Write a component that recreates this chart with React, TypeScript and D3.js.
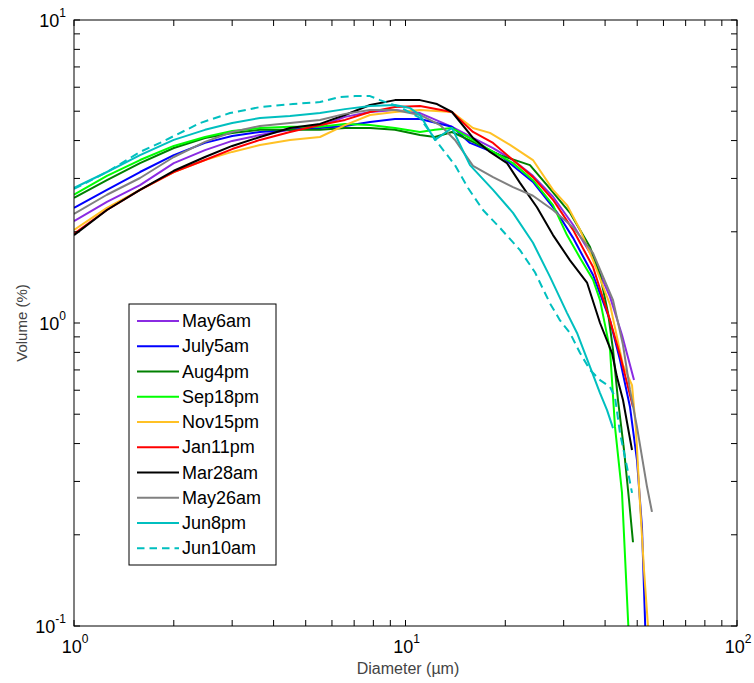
import React from 'react';
import * as d3 from 'd3';

type Pt = [number, number];

// [diameter (µm), volume (%)]
const may6am: Pt[] = [[1,2.17],[1.257,2.51],[1.582,2.85],[2,3.37],[2.484,3.72],[3,3.99],[3.64,4.17],[4.483,4.34],[5.522,4.47],[6.57,4.79],[7.815,4.97],[9.296,5.05],[11.06,4.93],[13.81,4.44],[15.98,4.08],[18.37,3.78],[21.1,3.45],[24.24,3.06],[27.86,2.61],[32.02,2.11],[36.79,1.64],[41.4,1.22],[44.99,0.913],[48.9,0.648]];
const july5am: Pt[] = [[1,2.4],[1.257,2.75],[1.582,3.15],[2,3.58],[2.484,3.93],[3,4.14],[3.64,4.27],[4.483,4.34],[5.522,4.4],[6.57,4.47],[7.815,4.61],[9.296,4.71],[11.06,4.71],[13.81,4.44],[15.65,3.93],[17.13,3.78],[19.28,3.58],[24.24,2.92],[28.64,2.32],[32.02,1.91],[36.79,1.44],[41.4,1.02],[44.37,0.755],[47.56,0.528],[49.92,0.353],[51.68,0.212],[52.78,0.105],[53.15,0.0833]];
const aug4pm: Pt[] = [[1,2.59],[1.257,2.96],[1.582,3.37],[2,3.78],[2.484,4.08],[3,4.24],[3.64,4.34],[4.483,4.34],[5.522,4.34],[6.57,4.4],[7.815,4.4],[9.296,4.34],[11.06,4.17],[12.27,4.11],[13.81,4.27],[15.98,3.96],[19.28,3.58],[23.74,3.32],[26.72,2.85],[31.35,2.31],[36.03,1.78],[38.62,1.44],[40.83,1.08],[42.27,0.815],[43.75,0.557],[45.62,0.381],[47.23,0.261],[48.56,0.189]];
const sep18pm: Pt[] = [[1,2.65],[1.257,3.06],[1.582,3.45],[2,3.84],[2.484,4.11],[3,4.3],[3.64,4.4],[4.483,4.44],[5.522,4.44],[6.57,4.54],[7.815,4.5],[9.296,4.4],[11.06,4.27],[12.27,4.34],[13.81,4.4],[15.98,4.02],[18.37,3.67],[21.1,3.37],[24.24,2.96],[27.86,2.45],[30.7,1.95],[33.62,1.64],[36.79,1.39],[38.62,1.19],[41.4,0.815],[42.85,0.454],[44.99,0.275],[46.91,0.105],[47.56,0.0772]];
const nov15pm: Pt[] = [[1,2.03],[1.257,2.4],[1.582,2.75],[2,3.15],[2.484,3.45],[3,3.67],[3.64,3.87],[4.483,4.02],[5.522,4.11],[6.57,4.5],[7.815,4.86],[9.296,4.97],[11.06,5.05],[13.81,4.97],[15.98,4.4],[17.98,4.24],[20.67,3.87],[24.24,3.45],[27.86,2.75],[30.7,2.45],[33.62,2.03],[36.79,1.61],[41.4,1.15],[45.3,0.727],[48.23,0.624],[49.58,0.443],[50.9,0.261],[52.42,0.153],[53.89,0.1],[54.26,0.0833]];
const jan11pm: Pt[] = [[1,1.97],[1.257,2.36],[1.582,2.75],[2,3.15],[2.484,3.45],[3,3.75],[3.64,4.02],[4.483,4.27],[5.522,4.5],[6.57,4.68],[7.815,4.97],[9.296,5.16],[11.06,5.2],[13.81,4.97],[15.98,4.27],[18.37,3.93],[21.1,3.45],[24.24,3.03],[27.86,2.55],[32.02,2.03],[36.79,1.53],[41.4,1.02],[44.37,0.784],[48.56,0.528]];
const mar28am: Pt[] = [[1,1.95],[1.257,2.36],[1.582,2.75],[2,3.18],[2.484,3.53],[3,3.84],[3.64,4.11],[4.483,4.4],[5.522,4.54],[6.57,4.86],[7.815,5.24],[9.296,5.44],[11.06,5.44],[12.45,5.28],[13.81,4.97],[15.98,4.08],[17.98,3.67],[20.24,3.37],[22.15,2.9],[24.92,2.41],[27.86,1.95],[31.35,1.61],[35.28,1.36],[38.62,1.0],[41.98,0.796],[43.45,0.663],[45.3,0.557],[48.23,0.381]];
const may26am: Pt[] = [[1,2.29],[1.257,2.65],[1.582,3.01],[2,3.53],[2.484,3.96],[3,4.27],[3.64,4.47],[4.483,4.57],[5.522,4.68],[6.57,4.9],[7.815,5.05],[9.296,5.05],[11.06,4.86],[12.71,4.5],[14.1,4.02],[15.98,3.3],[18.37,3.03],[21.1,2.81],[24.24,2.63],[27.86,2.36],[32.02,2.07],[36.79,1.7],[42.27,1.19],[45.3,0.846],[47.56,0.601],[49.92,0.454],[53.52,0.288],[55.4,0.238]];
const jun8pm: Pt[] = [[1,2.79],[1.257,3.15],[1.582,3.58],[2,4.02],[2.484,4.34],[3,4.57],[3.64,4.75],[4.483,4.82],[5.522,4.93],[6.57,5.08],[7.815,5.2],[9.296,5.24],[10.32,5.12],[11.06,4.86],[12.27,4.02],[13.81,4.4],[15.65,3.32],[18.37,2.75],[21.1,2.31],[24.24,1.84],[27.29,1.42],[30.7,1.08],[32.92,0.927],[36.03,0.716],[38.62,0.587],[40.55,0.516],[42.27,0.45]];
const jun10am: Pt[] = [[1,2.77],[1.257,3.15],[1.582,3.67],[1.817,3.93],[2.4,4.57],[2.955,4.93],[3.64,5.16],[4.577,5.28],[5.522,5.36],[6.345,5.57],[7.04,5.61],[7.815,5.61],[8.378,5.44],[9.625,5.16],[11.06,4.75],[12.71,3.84],[14.1,3.32],[15.44,2.79],[17.13,2.36],[19.28,2.06],[22.15,1.74],[24.58,1.47],[27.29,1.16],[29.25,1.02],[31.35,0.927],[33.62,0.796],[36.03,0.7],[38.62,0.648],[41.4,0.615],[42.85,0.57],[44.37,0.433],[46.58,0.335],[48.23,0.275]];

const seriesNames = ['May6am','July5am','Aug4pm','Sep18pm','Nov15pm','Jan11pm','Mar28am','May26am','Jun8pm','Jun10am'];
const seriesData = [may6am, july5am, aug4pm, sep18pm, nov15pm, jan11pm, mar28am, may26am, jun8pm, jun10am];
const seriesColors = ['#8a2be2','#0000ff','#008000','#00ff00','#ffc125','#ff0000','#000000','#808080','#00bfbf','#00bfbf'];
const seriesDash = ['', '', '', '', '', '', '', '', '', '8,5'];

const xDecades = [1, 10, 100];
const xExp = ['0', '1', '2'];
const yDecades = [0.1, 1, 10];
const yExp = ['-1', '0', '1'];

const xTitle = 'Diameter (µm)';
const yTitle = 'Volume (%)';

const FONT = '"Liberation Sans", Arial, Helvetica, sans-serif';

export default function App() {
  const W = 754, H = 683;
  const L = 74, R = 737, T = 20, B = 626;
  const x = d3.scaleLog().domain([1, 100]).range([L, R]);
  const y = d3.scaleLog().domain([0.1, 10]).range([B, T]);
  const line = d3.line<Pt>().x(d => x(d[0])).y(d => y(d[1]));
  const xt = x.ticks();
  const yt = y.ticks();
  const tl = 6;

  const legX = 129, legY = 304, legW = 147, legH = 261;
  const rowY0 = 321, rowStep = 25.26;

  return (
    <div style={{ position: 'absolute', left: 0, top: 0 }}>
      <svg width={W} height={H} style={{ display: 'block', background: '#fff' }} fontFamily={FONT}>
        <defs>
          <clipPath id="plotclip">
            <rect x={L} y={T} width={R - L} height={B - T} />
          </clipPath>
        </defs>
        <rect x={0} y={0} width={W} height={H} fill="#fff" />
        <g clipPath="url(#plotclip)">
          {seriesData.map((d, i) => (
            <path key={i} d={line(d) || ''} fill="none" stroke={seriesColors[i]} strokeWidth={2}
              strokeDasharray={seriesDash[i] || undefined} strokeLinejoin="round" />
          ))}
        </g>
        {/* ticks */}
        <g stroke="#000" strokeWidth={1}>
          {xt.map((t, i) => (
            <g key={'x' + i}>
              <line x1={x(t)} x2={x(t)} y1={B} y2={B - tl} />
              <line x1={x(t)} x2={x(t)} y1={T} y2={T + tl} />
            </g>
          ))}
          {yt.map((t, i) => (
            <g key={'y' + i}>
              <line x1={L} x2={L + tl} y1={y(t)} y2={y(t)} />
              <line x1={R} x2={R - tl} y1={y(t)} y2={y(t)} />
            </g>
          ))}
        </g>
        <rect x={L} y={T} width={R - L} height={B - T} fill="none" stroke="#000" strokeWidth={1} />
        {/* tick labels */}
        {xDecades.map((t, i) => (
          <text key={'xl' + i} x={x(t) + 1} y={653} textAnchor="middle" fontSize={18} fill="#000">
            10<tspan dy={-10} fontSize={12}>{xExp[i]}</tspan>
          </text>
        ))}
        {yDecades.map((t, i) => (
          <text key={'yl' + i} x={66} y={y(t) + 6.5} textAnchor="end" fontSize={18} fill="#000">
            10<tspan dy={-10} fontSize={12}>{yExp[i]}</tspan>
          </text>
        ))}
        <text x={408} y={674} textAnchor="middle" fontSize={16} fill="#444">{xTitle}</text>
        <text transform={`translate(27,${(T + B) / 2}) rotate(-90)`} textAnchor="middle" fontSize={15} fill="#444">{yTitle}</text>
        {/* legend */}
        <rect x={legX} y={legY} width={legW} height={legH} fill="#fff" stroke="#000" strokeWidth={1} />
        {seriesNames.map((n, i) => {
          const ry = rowY0 + i * rowStep;
          return (
            <g key={'lg' + i}>
              <line x1={137} x2={179} y1={ry} y2={ry} stroke={seriesColors[i]} strokeWidth={2}
                strokeDasharray={seriesDash[i] ? '7.5,5' : undefined} />
              <text x={182} y={ry + 6} fontSize={18} fill="#000">{n}</text>
            </g>
          );
        })}
      </svg>
    </div>
  );
}
